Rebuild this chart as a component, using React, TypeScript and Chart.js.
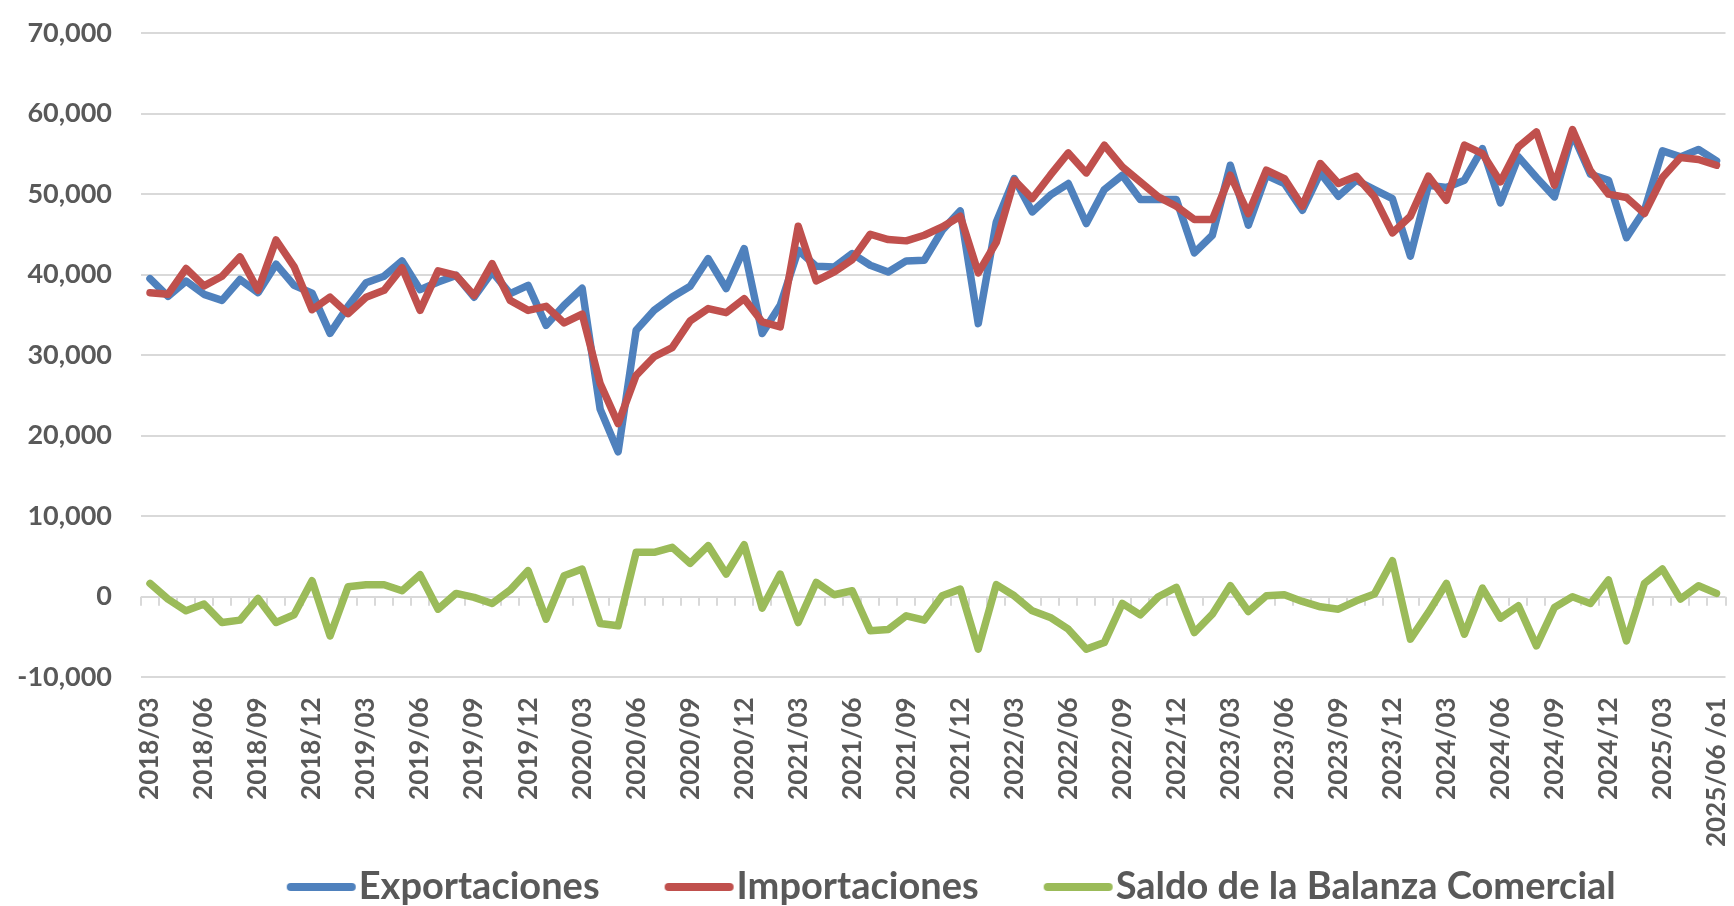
import React, { useEffect, useRef } from 'react';
import { Chart, registerables } from 'chart.js';

Chart.register(...registerables);

const categories = [
  '2018/03', '2018/04', '2018/05', '2018/06', '2018/07', '2018/08', '2018/09', '2018/10', '2018/11', '2018/12',
  '2019/01', '2019/02', '2019/03', '2019/04', '2019/05', '2019/06', '2019/07', '2019/08', '2019/09', '2019/10', '2019/11', '2019/12',
  '2020/01', '2020/02', '2020/03', '2020/04', '2020/05', '2020/06', '2020/07', '2020/08', '2020/09', '2020/10', '2020/11', '2020/12',
  '2021/01', '2021/02', '2021/03', '2021/04', '2021/05', '2021/06', '2021/07', '2021/08', '2021/09', '2021/10', '2021/11', '2021/12',
  '2022/01', '2022/02', '2022/03', '2022/04', '2022/05', '2022/06', '2022/07', '2022/08', '2022/09', '2022/10', '2022/11', '2022/12',
  '2023/01', '2023/02', '2023/03', '2023/04', '2023/05', '2023/06', '2023/07', '2023/08', '2023/09', '2023/10', '2023/11', '2023/12',
  '2024/01', '2024/02', '2024/03', '2024/04', '2024/05', '2024/06', '2024/07', '2024/08', '2024/09', '2024/10', '2024/11', '2024/12',
  '2025/01', '2025/02', '2025/03', '2025/04', '2025/05', '2025/06 /o1',
];

const exportaciones = [
  39500, 37300, 39200, 37550, 36800, 39400, 37760, 41300, 38670, 37700,
  32700, 36060, 39000, 39800, 41700, 38130, 39090, 39900, 37200, 40330, 37630, 38670,
  33700, 36200, 38300, 23300, 18000, 33100, 35570, 37230, 38550, 41990, 38270, 43230,
  32680, 36190, 43020, 41040, 40950, 42610, 41160, 40330, 41700, 41780, 45510, 47910,
  33910, 46500, 51930, 47790, 49860, 51310, 46340, 50560, 52340, 49320, 49320, 49320,
  42700, 44890, 53580, 46130, 52340, 51310, 47990, 52630, 49730, 51720, 50560, 49440,
  42300, 51100, 50810, 51720, 55650, 48900, 54620, 52050, 49650, 57520, 52460, 51720,
  44600, 47990, 55360, 54620, 55530, 54120,
];

const importaciones = [
  37760, 37550, 40750, 38600, 39800, 42200, 38050, 44300, 41000, 35640,
  37200, 35150, 37200, 38050, 40870, 35560, 40460, 39900, 37400, 41370, 36800, 35560,
  36060, 34000, 35100, 26470, 21500, 27500, 29800, 30940, 34250, 35780, 35280, 37020,
  34120, 33500, 46000, 39220, 40330, 41870, 45010, 44350, 44190, 44890, 45920, 47250,
  40210, 44000, 51720, 49440, 52340, 55110, 52630, 56070, 53380, 51510, 49650, 48490,
  46830, 46830, 52340, 47580, 52960, 51930, 48490, 53790, 51310, 52220, 49650, 45180,
  47260, 52220, 49240, 56070, 55030, 51510, 55860, 57720, 51100, 58010, 52880, 49990,
  49570, 47580, 52050, 54540, 54290, 53580,
];

const saldo = [
  1660, -290, -1740, -910, -3200, -2900, -210, -3200, -2240, 1990,
  -4860, 1250, 1500, 1500, 750, 2740, -1540, 415, -80, -830, 830, 3240,
  -2780, 2610, 3440, -3320, -3610, 5520, 5520, 6140, 4150, 6350, 2820, 6470,
  -1410, 2820, -3200, 1780, 250, 750, -4230, -4070, -2370, -2900, 120, 950,
  -6500, 1500, 120, -1740, -2570, -4030, -6500, -5690, -830, -2240, 0, 1160,
  -4440, -2160, 1370, -1830, 120, 250, -580, -1245, -1540, -500, 330, 4480,
  -5270, -1950, 1660, -4650, 1080, -2660, -1120, -6100, -1330, 0, -830, 2075,
  -5480, 1660, 3440, -290, 1370, 415,
];

const seriesNames = ['Exportaciones', 'Importaciones', 'Saldo de la Balanza Comercial'];
const seriesColors = ['#4F81BD', '#C0504D', '#9BBB59'];

const Y_MIN = -10000;
const Y_MAX = 70000;
const Y_STEP = 10000;
const LABEL_EVERY = 3;

const FONT = 'Lato, "Open Sans", sans-serif';
const TEXT_COLOR = '#595959';
const GRID_COLOR = '#D9D9D9';

const CANVAS_W = 1734;
const CANVAS_H = 976;
const X_AXIS_H = 184.7;
const LEGEND_FONT = 38;
const LEGEND_PAD = 66;
const LEGEND_BOX_W = 52;
const LEGEND_SHIFT_X = 81;
const LEGEND_SHIFT_Y = -60;

// legend sample line drawn as an image (so it can sit close to its text)
const IMG_W = 92;
const IMG_H = 14;
function makeLegendLine(color: string) {
  const c = document.createElement('canvas');
  c.width = IMG_W;
  c.height = IMG_H;
  const g = c.getContext('2d') as CanvasRenderingContext2D;
  g.strokeStyle = color;
  g.lineWidth = 8;
  g.lineCap = 'round';
  g.beginPath();
  g.moveTo(23, IMG_H / 2);
  g.lineTo(84, IMG_H / 2);
  g.stroke();
  return c;
}

const zeroTicksPlugin = {
  id: 'zeroTicks',
  beforeDatasetsDraw(chart: any) {
    const xs = chart.scales.x;
    const ys = chart.scales.y;
    const y0 = ys.getPixelForValue(0);
    const ctx = chart.ctx;
    ctx.save();
    ctx.strokeStyle = GRID_COLOR;
    ctx.lineWidth = 2;
    ctx.beginPath();
    for (let k = 0; k <= categories.length; k++) {
      const px = Math.round(xs.getPixelForValue(k - 0.5));
      ctx.moveTo(px, y0);
      ctx.lineTo(px, y0 + 9);
    }
    ctx.stroke();
    ctx.restore();
  },
};

const legendShiftPlugin = {
  id: 'legendShift',
  afterLayout(chart: any) {
    const lg = chart.legend;
    if (lg) {
      lg.left += LEGEND_SHIFT_X;
      lg.right += LEGEND_SHIFT_X;
      lg.top += LEGEND_SHIFT_Y;
      lg.bottom += LEGEND_SHIFT_Y;
    }
  },
};

export default function App() {
  const ref = useRef<HTMLCanvasElement | null>(null);

  useEffect(() => {
    document.body.style.margin = '0';
    document.body.style.overflow = 'hidden';
    const canvas = ref.current;
    if (!canvas) return;
    const seriesData = [exportaciones, importaciones, saldo];
    const chart = new Chart(canvas, {
      type: 'line',
      data: {
        labels: categories,
        datasets: seriesData.map((d, i) => ({
          label: seriesNames[i],
          data: d,
          borderColor: seriesColors[i],
          backgroundColor: seriesColors[i],
          borderWidth: 7.5,
          borderCapStyle: 'round',
          borderJoinStyle: 'round',
          pointRadius: 0,
          pointHoverRadius: 0,
          pointStyle: makeLegendLine(seriesColors[i]),
          tension: 0,
          fill: false,
          order: 3 - i,
        })),
      },
      options: {
        animation: false,
        responsive: false,
        devicePixelRatio: 1,
        layout: { padding: { top: 33, left: 16, right: 8.5, bottom: 0 } },
        plugins: {
          tooltip: { enabled: false },
          legend: {
            position: 'bottom',
            labels: {
              usePointStyle: true,
              pointStyleWidth: LEGEND_BOX_W,
              padding: LEGEND_PAD,
              color: TEXT_COLOR,
              font: { family: FONT, size: LEGEND_FONT, weight: 'bold' },
              sort: (a: any, b: any) => a.datasetIndex - b.datasetIndex,
            },
          },
        },
        scales: {
          x: {
            type: 'category',
            offset: true,
            grid: { display: false, drawTicks: false },
            border: { display: false },
            ticks: {
              autoSkip: false,
              minRotation: 90,
              maxRotation: 90,
              padding: 20,
              color: TEXT_COLOR,
              font: { family: FONT, size: 26, weight: 'bold' },
              callback: (_v: any, idx: number) => (idx % LABEL_EVERY === 0 ? categories[idx] : ''),
            },
            afterFit: (scale: any) => {
              scale.height = X_AXIS_H;
              scale.paddingLeft = 0;
              scale.paddingRight = 0;
            },
          },
          y: {
            min: Y_MIN,
            max: Y_MAX,
            grid: { color: GRID_COLOR, lineWidth: 2, drawTicks: false },
            border: { display: false },
            ticks: {
              stepSize: Y_STEP,
              padding: 29,
              color: TEXT_COLOR,
              font: { family: FONT, size: 27, weight: 'bold' },
              callback: (v: any) => Number(v).toLocaleString('en-US'),
            },
            afterFit: (scale: any) => {
              scale.width = 125;
              scale.paddingTop = 0;
              scale.paddingBottom = 0;
            },
          },
        },
      },
      plugins: [zeroTicksPlugin, legendShiftPlugin],
    } as any);
    return () => chart.destroy();
  }, []);

  return (
    <div style={{ position: 'fixed', left: 0, top: 0, width: CANVAS_W, height: CANVAS_H }}>
      <canvas ref={ref} width={CANVAS_W} height={CANVAS_H} style={{ width: CANVAS_W, height: CANVAS_H, display: 'block' }} />
    </div>
  );
}
